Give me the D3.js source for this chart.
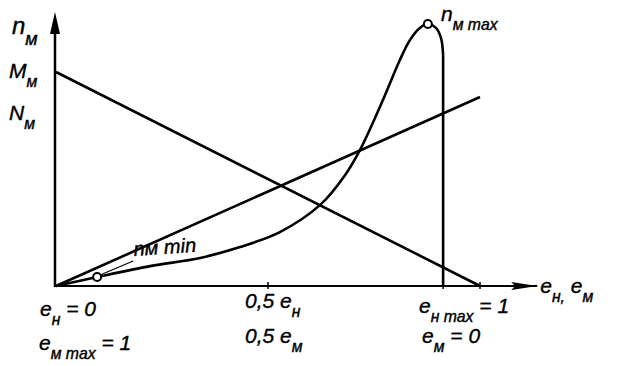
<!DOCTYPE html>
<html>
<head>
<meta charset="utf-8">
<script src="https://cdn.jsdelivr.net/npm/d3@7/dist/d3.min.js"></script>
<style>
  body { margin: 0; background: #fff; }
  .lbl { font-family: "Liberation Sans", "DejaVu Sans", sans-serif; font-style: italic; fill: #000; stroke: #000; stroke-width: 0.4; }
</style>
</head>
<body>
<svg id="chart" width="617" height="366"></svg>
<script>
// x axis: relative e (0 .. 1), y axis: relative n, M, N (M at e=0 is 1)
const xTicks = [0, 0.5, 0.913, 1];

// M_m line and N_m line (straight)
const torqueX = [0, 1];
const torqueY = [1, 0];
const powerX = [0, 1];
const powerY = [0, 0.883];

// n_m curve
const speedX = [0, 0.097, 0.222, 0.340, 0.434, 0.528, 0.623, 0.682, 0.717, 0.771, 0.811, 0.835, 0.858, 0.877, 0.896, 0.908, 0.913];
const speedY = [0, 0.042, 0.093, 0.131, 0.182, 0.252, 0.379, 0.519, 0.636, 0.869, 1.056, 1.150, 1.206, 1.224, 1.206, 1.159, 1.079];

// marked points: n_m min and n_m max
const markX = [0.097, 0.877];
const markY = [0.042, 1.224];

const svg = d3.select('#chart');

const x = d3.scaleLinear().domain([0, 1]).range([56, 480]);
const y = d3.scaleLinear().domain([0, 1]).range([286, 72]);

const xAxisEnd = 1.135;   // where the x arrow ends
const yAxisEnd = 1.28;    // where the y arrow ends

// axes
svg.append('line')
    .attr('x1', x(0) - 1).attr('x2', x(xAxisEnd))
    .attr('y1', y(0)).attr('y2', y(0))
    .attr('stroke', '#000').attr('stroke-width', 2);
svg.append('line')
    .attr('x1', x(0) - 1).attr('x2', x(0) - 1)
    .attr('y1', y(0) + 1).attr('y2', y(yAxisEnd) + 10)
    .attr('stroke', '#000').attr('stroke-width', 2.5);

// arrow heads
const ax = x(xAxisEnd), ay = y(0);
svg.append('path')
    .attr('d', `M${ax},${ay} L${ax - 26},${ay - 4} L${ax - 22},${ay} L${ax - 26},${ay + 4} Z`)
    .attr('fill', '#000');
const tx = x(0) - 1, ty = y(yAxisEnd);
svg.append('path')
    .attr('d', `M${tx},${ty} L${tx - 5},${ty + 22} L${tx + 5},${ty + 22} Z`)
    .attr('fill', '#000');

// small ticks on x axis
svg.selectAll('.tick')
    .data(xTicks.slice(1))
  .join('line')
    .attr('class', 'tick')
    .attr('x1', d => x(d)).attr('x2', d => x(d))
    .attr('y1', y(0) - 4).attr('y2', y(0) + 3)
    .attr('stroke', '#000').attr('stroke-width', 1.5);

const straight = d3.line()
    .x(d => x(d[0]))
    .y(d => y(d[1]));

svg.append('path')
    .datum(d3.zip(torqueX, torqueY))
    .attr('d', straight)
    .attr('fill', 'none').attr('stroke', '#000').attr('stroke-width', 2.6);

svg.append('path')
    .datum(d3.zip(powerX, powerY))
    .attr('d', straight)
    .attr('fill', 'none').attr('stroke', '#000').attr('stroke-width', 2.6);

const smooth = d3.line()
    .x(d => x(d[0]))
    .y(d => y(d[1]))
    .curve(d3.curveCatmullRom.alpha(0.5));

svg.append('path')
    .datum(d3.zip(speedX, speedY))
    .attr('d', smooth)
    .attr('fill', 'none').attr('stroke', '#000').attr('stroke-width', 2.6);

// vertical drop of the speed curve
const lastX = speedX[speedX.length - 1];
svg.append('line')
    .attr('x1', x(lastX)).attr('x2', x(lastX))
    .attr('y1', y(speedY[speedY.length - 1])).attr('y2', y(0))
    .attr('stroke', '#000').attr('stroke-width', 2.6);

// leader line for n min
svg.append('line')
    .attr('x1', x(markX[0]) + 3).attr('y1', y(markY[0]) - 2)
    .attr('x2', x(markX[0]) + 36).attr('y2', y(markY[0]) - 16)
    .attr('stroke', '#000').attr('stroke-width', 1.2);

svg.selectAll('.mark')
    .data(d3.zip(markX, markY))
  .join('circle')
    .attr('class', 'mark')
    .attr('cx', d => x(d[0]))
    .attr('cy', d => y(d[1]))
    .attr('r', 4)
    .attr('fill', '#fff')
    .attr('stroke', '#000')
    .attr('stroke-width', 2);

// text with subscripts
function richText(px, py, parts, size, rotate) {
  const t = svg.append('text').attr('class', 'lbl')
      .attr('x', px).attr('y', py)
      .style('font-size', size + 'px');
  if (rotate) t.attr('transform', `rotate(${rotate},${px},${py})`);
  let shift = 0;
  parts.forEach(p => {
    const s = p.sub ? Math.round(size * 0.45) : 0;
    t.append('tspan')
        .attr('dy', s - shift)
        .style('font-size', (p.sub ? size * 0.75 : size) + 'px')
        .text(p.t);
    shift = s;
  });
}

// y axis labels
richText(12, 34, [{t: 'n'}, {t: 'м', sub: true}], 24);
richText(9, 78, [{t: 'M'}, {t: 'м', sub: true}], 21);
richText(9, 120, [{t: 'N'}, {t: 'м', sub: true}], 21);

// curve labels
richText(441, 21, [{t: 'n'}, {t: 'м max', sub: true}], 21);
richText(134, 256, [{t: 'n'}, {t: 'м '}, {t: 'min'}], 20, -4);

// x axis labels
richText(x(xAxisEnd) + 3, 293, [{t: 'e'}, {t: 'н,', sub: true}, {t: ' e'}, {t: 'м', sub: true}], 21);

richText(x(0) - 16, 316, [{t: 'e'}, {t: 'н', sub: true}, {t: ' = 0'}], 21);
richText(x(0) - 17, 350, [{t: 'e'}, {t: 'м max', sub: true}, {t: ' = 1'}], 21);

richText(x(0.5) - 23, 308, [{t: '0,5 e'}, {t: 'н', sub: true}], 21);
richText(x(0.5) - 23, 343, [{t: '0,5 e'}, {t: 'м', sub: true}], 21);

richText(x(1) - 61, 313, [{t: 'e'}, {t: 'н max', sub: true}, {t: ' = 1'}], 21);
richText(x(1) - 58, 343, [{t: 'e'}, {t: 'м', sub: true}, {t: ' = 0'}], 21);
</script>
</body>
</html>
